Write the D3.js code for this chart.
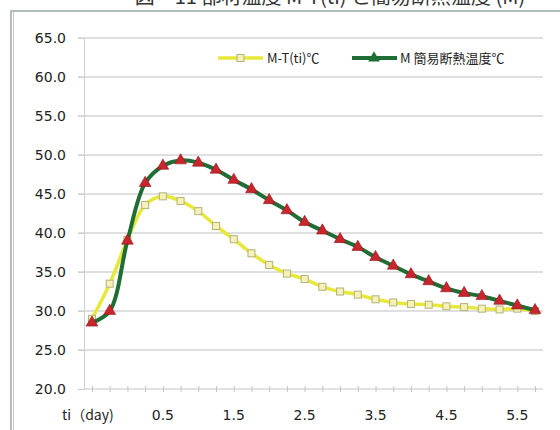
<!DOCTYPE html>
<html>
<head>
  <meta charset="utf-8"/>
  <title>部材温度と簡易断熱温度</title>
  <style>
    body { margin: 0; background: #fff; }
    text { font-family: "Noto Sans CJK JP", "Noto Sans", sans-serif; }
  </style>
  <script src="https://d3js.org/d3.v7.min.js"></script>
</head>
<body>
<div id="my_dataviz"></div>
<script>
// ti (day) categories, one point per category
var ti = [0, 0.125, 0.25, 0.375, 0.5, 0.75, 1.0, 1.25, 1.5, 1.75, 2.0, 2.25, 2.5,
          2.75, 3.0, 3.25, 3.5, 3.75, 4.0, 4.25, 4.5, 4.75, 5.0, 5.25, 5.5, 5.75]
// M-T(ti) ℃
var mt = [29.0, 33.5, 39.1, 43.6, 44.7, 44.1, 42.8, 40.9, 39.2, 37.4, 35.9, 34.8, 34.1,
          33.1, 32.5, 32.1, 31.5, 31.1, 30.9, 30.8, 30.6, 30.5, 30.3, 30.2, 30.3, 30.0]
// M 簡易断熱温度 ℃
var madi = [28.5, 30.0, 39.0, 46.4, 48.6, 49.3, 49.0, 48.1, 46.8, 45.6, 44.2, 42.9, 41.4,
            40.3, 39.2, 38.2, 36.9, 35.8, 34.7, 33.8, 32.9, 32.3, 31.9, 31.3, 30.7, 30.1]
var yTicks = [20, 25, 30, 35, 40, 45, 50, 55, 60, 65]
var xLabels = [0.5, 1.5, 2.5, 3.5, 4.5, 5.5]
var seriesNames = ["M-T(ti)℃", "M 簡易断熱温度℃"]

var width = 560, height = 430
var svg = d3.select("#my_dataviz").append("svg")
    .attr("width", width).attr("height", height)

// cut-off caption at the very top
svg.append("text")
    .attr("x", 330).attr("y", 4)
    .attr("text-anchor", "middle")
    .style("font-size", "20px").attr("fill", "#333")
    .text("図－11  部材温度 M-T(ti) と簡易断熱温度 (M)")

// chart frame
svg.append("rect")
    .attr("x", 11).attr("y", 11).attr("width", 580).attr("height", 440)
    .attr("fill", "none").attr("stroke", "#9aa8a8").attr("stroke-width", 1.5)
svg.append("line")
    .attr("x1", 13.5).attr("x2", 13.5).attr("y1", 12).attr("y2", 430)
    .attr("stroke", "#c8c8c8").attr("stroke-width", 1)

var x = d3.scalePoint()
    .domain(ti)
    .range([84, 543])
    .padding(0.45)
var y = d3.scaleLinear()
    .domain([20, 65])
    .range([389, 38])

// horizontal gridlines
svg.append("g").selectAll("line")
  .data(yTicks.filter(function(d) { return d > 20 }))
  .enter().append("line")
    .attr("x1", 78).attr("x2", 543)
    .attr("y1", function(d) { return y(d) }).attr("y2", function(d) { return y(d) })
    .attr("stroke", "#d4d4d4").attr("stroke-width", 1.3)

// y axis
var yAxis = svg.append("g")
    .attr("transform", "translate(84,0)")
    .call(d3.axisLeft(y).tickValues(yTicks).tickFormat(d3.format(".1f")).tickSize(6).tickPadding(12))
yAxis.select(".domain").attr("stroke", "#cfcfcf")
yAxis.selectAll(".tick line").attr("stroke", "#cfcfcf")
yAxis.selectAll("text").style("font-size", "14px").attr("fill", "#222")
  .style("font-family", "'DejaVu Sans', sans-serif")

// x axis
var xAxis = svg.append("g")
    .attr("transform", "translate(0," + y(20) + ")")
    .call(d3.axisBottom(x).tickSize(3).tickFormat(""))
xAxis.select(".domain").attr("stroke", "#c4c4c4").attr("d", "M84,0H543")
xAxis.selectAll(".tick line").attr("stroke", "#c4c4c4").attr("y1", -3)

svg.append("g").selectAll("text")
  .data(xLabels)
  .enter().append("text")
    .attr("x", function(d) { return x(d) })
    .attr("y", 420)
    .attr("text-anchor", "middle")
    .style("font-size", "14px").style("font-family", "'DejaVu Sans', sans-serif")
    .attr("fill", "#222")
    .text(function(d) { return d.toFixed(1) })
svg.append("text")
    .attr("x", 62).attr("y", 420)
    .style("font-size", "14px").attr("fill", "#222")
    .text("ti（day)")

var line = d3.line()
    .x(function(d, i) { return x(ti[i]) })
    .y(function(d) { return y(d) })
    .curve(d3.curveCatmullRom.alpha(0.5))

// M-T(ti) series
svg.append("path").datum(mt)
    .attr("d", line).attr("fill", "none")
    .attr("stroke", "#e8e83a").attr("stroke-width", 3.5)
svg.append("g").selectAll("rect")
  .data(mt).enter().append("rect")
    .attr("x", function(d, i) { return x(ti[i]) - 3.5 })
    .attr("y", function(d) { return y(d) - 3.5 })
    .attr("width", 7).attr("height", 7)
    .attr("fill", "#f4f2b8").attr("stroke", "#b5b27a").attr("stroke-width", 1)

// M 簡易断熱温度 series
svg.append("path").datum(madi)
    .attr("d", line).attr("fill", "none")
    .attr("stroke", "#1f6e35").attr("stroke-width", 4)
var tri = d3.symbol().type(d3.symbolTriangle).size(60)
svg.append("g").selectAll("path")
  .data(madi).enter().append("path")
    .attr("d", tri)
    .attr("transform", function(d, i) { return "translate(" + x(ti[i]) + "," + y(d) + ")" })
    .attr("fill", "#c8252c").attr("stroke", "#8e1a1e").attr("stroke-width", 0.6)

// legend
var lg = svg.append("g")
lg.append("line").attr("x1", 218).attr("x2", 263).attr("y1", 58).attr("y2", 58)
    .attr("stroke", "#e8e83a").attr("stroke-width", 3.5)
lg.append("rect").attr("x", 237).attr("y", 54.5).attr("width", 7).attr("height", 7)
    .attr("fill", "#f4f2b8").attr("stroke", "#b5b27a")
lg.append("text").attr("x", 267).attr("y", 63)
    .style("font-size", "13px").attr("fill", "#222").text(seriesNames[0])
lg.append("line").attr("x1", 352).attr("x2", 397).attr("y1", 58).attr("y2", 58)
    .attr("stroke", "#1f6e35").attr("stroke-width", 4)
lg.append("path").attr("d", tri).attr("transform", "translate(374,58)")
    .attr("fill", "#1f6e35")
lg.append("text").attr("x", 400).attr("y", 63)
    .style("font-size", "13px").attr("fill", "#222").text(seriesNames[1])
</script>
</body>
</html>
